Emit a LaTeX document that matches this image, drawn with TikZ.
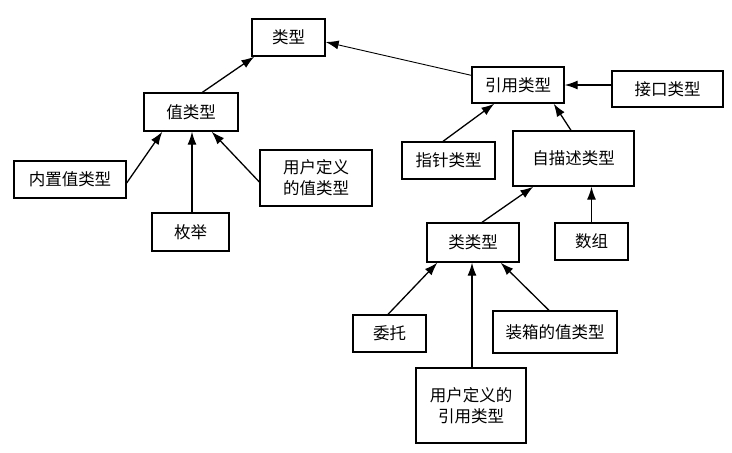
\documentclass[tikz,border=0pt]{standalone}
\usepackage{fontspec}
\setmainfont{Noto Sans CJK SC}
\usetikzlibrary{arrows.meta,calc}
\begin{document}
\begin{tikzpicture}[x=1pt,y=-1pt,
  box/.style={draw,line width=1.3pt,inner sep=0pt,align=center,
    font=\fontsize{16.5}{21}\selectfont},
  arr/.style={line width=1.3pt,-{Latex[length=13pt,width=9pt]}}]
\useasboundingbox[fill=white] (0,0) rectangle (732,453);
\node[box,minimum width=73pt,minimum height=37pt] (leixing) at (288.5,37.5) {类型};
\node[box,minimum width=94pt,minimum height=38pt] (zhi) at (191,112) {值类型};
\node[box,minimum width=112pt,minimum height=37pt] (neizhi) at (70,179.5) {内置值类型};
\node[box,minimum width=77pt,minimum height=38pt] (meiju) at (190.5,232) {枚举};
\node[box,minimum width=112pt,minimum height=56pt] (yonghuzhi) at (316,178) {用户定义\\的值类型};
\node[box,minimum width=92pt,minimum height=36pt] (yinyong) at (518,85) {引用类型};
\node[box,minimum width=111pt,minimum height=36pt] (jiekou) at (667.5,89) {接口类型};
\node[box,minimum width=93pt,minimum height=37pt] (zhizhen) at (448.5,160.5) {指针类型};
\node[box,minimum width=121pt,minimum height=55pt] (zimiaoshu) at (573.5,158.5) {自描述类型};
\node[box,minimum width=92pt,minimum height=39pt] (leilei) at (473,242.5) {类类型};
\node[box,minimum width=73pt,minimum height=37pt] (shuzu) at (591.5,241.5) {数组};
\node[box,minimum width=73pt,minimum height=37pt] (weituo) at (389.5,333.5) {委托};
\node[box,minimum width=124pt,minimum height=42pt] (zhuangxiang) at (555,332) {装箱的值类型};
\node[box,minimum width=110pt,minimum height=75pt] (yonghuyin) at (471,405.5) {用户定义的\\引用类型};

\draw[arr] ([xshift=59pt]zhi.north west) -- ([xshift=3pt]leixing.south west);
\draw[arr,line width=0.9pt] ([yshift=-9pt]yinyong.north west) -- ([yshift=-4.5pt]leixing.east);
\draw[arr] ([yshift=-3.5pt]neizhi.east) -- ([xshift=19pt]zhi.south west);
\draw[arr] ([xshift=1.5pt]meiju.north) -- ([xshift=1.5pt]meiju.north |- zhi.south);
\draw[arr] ([yshift=-4pt]yonghuzhi.west) -- ([xshift=-27pt]zhi.south east);
\draw[arr] ([yshift=4pt]jiekou.west) -- (yinyong.east);
\draw[arr] ([xshift=-5.5pt]zhizhen.north) -- ([xshift=23pt]yinyong.south west);
\draw[arr] ([xshift=-2.5pt]zimiaoshu.north) -- ([xshift=-11pt]yinyong.south east);
\draw[arr] ([xshift=9pt]leilei.north) -- ([xshift=21pt]zimiaoshu.south west);
\draw[arr] (shuzu.north) -- (shuzu.north |- zimiaoshu.south);
\draw[arr] ([xshift=-1.5pt]weituo.north) -- ([xshift=11pt]leilei.south west);
\draw[arr] ([xshift=1pt]yonghuyin.north) -- ([xshift=1pt]yonghuyin.north |- leilei.south);
\draw[arr] ([xshift=-6pt]zhuangxiang.north) -- ([xshift=-19pt]leilei.south east);
\end{tikzpicture}
\end{document}
